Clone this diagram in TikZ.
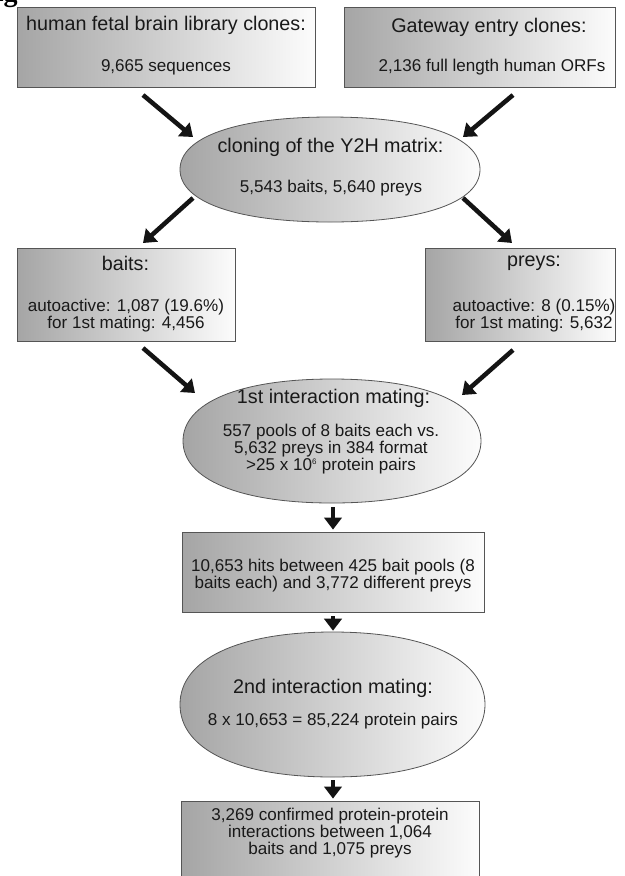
\documentclass[tikz,border=0pt]{standalone}
\usepackage{fontspec}
\setmainfont{Liberation Sans}
\newfontfamily\captionfont{Liberation Serif}
\usetikzlibrary{arrows.meta,shapes.geometric,calc}

\definecolor{inkgray}{RGB}{25,25,25}
\definecolor{edgegray}{RGB}{85,85,85}
\definecolor{shadeleft}{RGB}{165,165,165}
\definecolor{shaderight}{RGB}{252,252,252}

\tikzset{
  panel/.style={rectangle, draw=edgegray, line width=0.6pt,
    left color=shadeleft, right color=shaderight, inner sep=0pt},
  ovalfill/.style={draw=edgegray, line width=0.6pt,
    left color=shadeleft, right color=shaderight},
  anchoroval/.style={ellipse, draw=none, inner sep=0pt},
  headtext/.style={text=inkgray, font=\fontsize{14.8}{17}\selectfont, inner sep=0pt},
  bodytext/.style={text=inkgray, font=\fontsize{12.8}{12.8}\selectfont, align=center, inner sep=0pt},
  flow/.style={draw=black!92, line width=3.4pt, -{Triangle[length=9pt,width=13pt]}},
}

% a slightly full oval: centre (#1,#2), half axes #3 and #4
\newcommand\fulloval[4]{%
  \path[ovalfill]
    (#1+#3,#2) .. controls (#1+#3,#2+0.62*#4) and (#1+0.62*#3,#2+#4) .. (#1,#2+#4)
    .. controls (#1-0.62*#3,#2+#4) and (#1-#3,#2+0.62*#4) .. (#1-#3,#2)
    .. controls (#1-#3,#2-0.62*#4) and (#1-0.62*#3,#2-#4) .. (#1,#2-#4)
    .. controls (#1+0.62*#3,#2-#4) and (#1+#3,#2-0.62*#4) .. (#1+#3,#2) -- cycle;}

\begin{document}
\begin{tikzpicture}[x=0.75pt, y=-0.75pt]
  \useasboundingbox (0,0) rectangle (625,876);
  \clip (0,0) rectangle (625,876);

  % figure heading, mostly above the page
  \node[anchor=base east, font=\captionfont\bfseries\fontsize{21}{21}\selectfont, inner sep=0pt]
    (figlabel) at (18,1) {Fig};

  % boxes
  \node[panel, minimum width=223.5pt, minimum height=60pt]   (lib)   at (166,47) {};
  \node[panel, minimum width=203.25pt, minimum height=60pt]  (gate)  at (479.5,47) {};
  \node[panel, minimum width=163.5pt, minimum height=69.75pt] (baits) at (126,294.5) {};
  \node[panel, minimum width=142.5pt, minimum height=69.75pt] (preys) at (520,294.5) {};
  \node[panel, minimum width=226.5pt, minimum height=60pt]   (hits)  at (333,572) {};
  \node[panel, minimum width=223.5pt, minimum height=70.5pt] (final) at (330,848) {};

  % ovals
  \fulloval{330}{169.5}{150}{52.5}
  \fulloval{332}{441}{149}{62}
  \fulloval{332.5}{704.5}{152.5}{72.5}
  \node[anchoroval, minimum width=225pt, minimum height=78.75pt]  (clon)  at (330,169.5) {};
  \node[anchoroval, minimum width=223.5pt, minimum height=93pt] (mate1) at (332,441) {};
  \node[anchoroval, minimum width=228.75pt, minimum height=108.75pt] (mate2) at (332.5,704.5) {};

  % texts
  \node[headtext] (libH)  at (166,25) {human fetal brain library clones:};
  \node[bodytext] (libB)  at (166,67) {9,665 sequences};
  \node[headtext] (gateH) at (489,27) {Gateway entry clones:};
  \node[bodytext] (gateB) at (492,67) {2,136 full length human ORFs};
  \node[headtext] (clonH) at (330.5,147) {cloning of the Y2H matrix:};
  \node[bodytext] (clonB) at (331,188) {5,543 baits, 5,640 preys};
  \node[headtext] (baitH) at (125.5,263) {baits:};
  \node[bodytext] (baitB) at (126,315.5) {autoactive: 1,087 (19.6\%)\\for 1st mating: 4,456};
  \node[headtext] (preyH) at (534,263) {preys:};
  \node[bodytext] (preyB) at (534,315.5) {autoactive: 8 (0.15\%)\\for 1st mating: 5,632};
  \node[headtext] (m1H)   at (333.5,398) {1st interaction mating:};
  \node[bodytext] (m1B)   at (331,449) {557 pools of 8 baits each vs.\\5,632 preys in 384 format\\>25 x 10\textsuperscript{\fontsize{6}{6}\selectfont 6} protein pairs};
  \node[bodytext] (hitsB) at (333,576) {10,653 hits between 425 bait pools (8\\baits each) and 3,772 different preys};
  \node[headtext] (m2H)   at (333,688) {2nd interaction mating:};
  \node[bodytext] (m2B)   at (333,721) {8 x 10,653 = 85,224 protein pairs};
  \node[bodytext] (finB)  at (330,833.5) {3,269 confirmed protein-protein\\interactions between 1,064\\baits and 1,075 preys};

  % connectors
  \draw[flow] ($(lib.center)+(-23,48)$)    -- ($(clon.center)+(-137,-32.5)$);
  \draw[flow] ($(gate.center)+(33.5,48)$)  -- ($(clon.center)+(133,-32.5)$);
  \draw[flow] ($(clon.center)+(-137,28.5)$) -- ($(baits.center)+(17,-51.5)$);
  \draw[flow] ($(clon.center)+(133,28.5)$)  -- ($(preys.center)+(-8,-51.5)$);
  \draw[flow] ($(baits.center)+(17,53.5)$)  -- ($(mate1.center)+(-137,-48)$);
  \draw[flow] ($(preys.center)+(-7,55.5)$)  -- ($(mate1.center)+(130,-46)$);
  \draw[flow] ($(mate1.south)+(1,4)$) -- ($(hits.north)+(0,-2)$);
  \draw[flow] ($(hits.south)+(0,4)$)  -- ($(mate2.north)+(0.5,-1)$);
  \draw[flow] ($(mate2.south)+(0.5,3)$) -- ($(final.north)+(3,-2)$);
\end{tikzpicture}
\end{document}
